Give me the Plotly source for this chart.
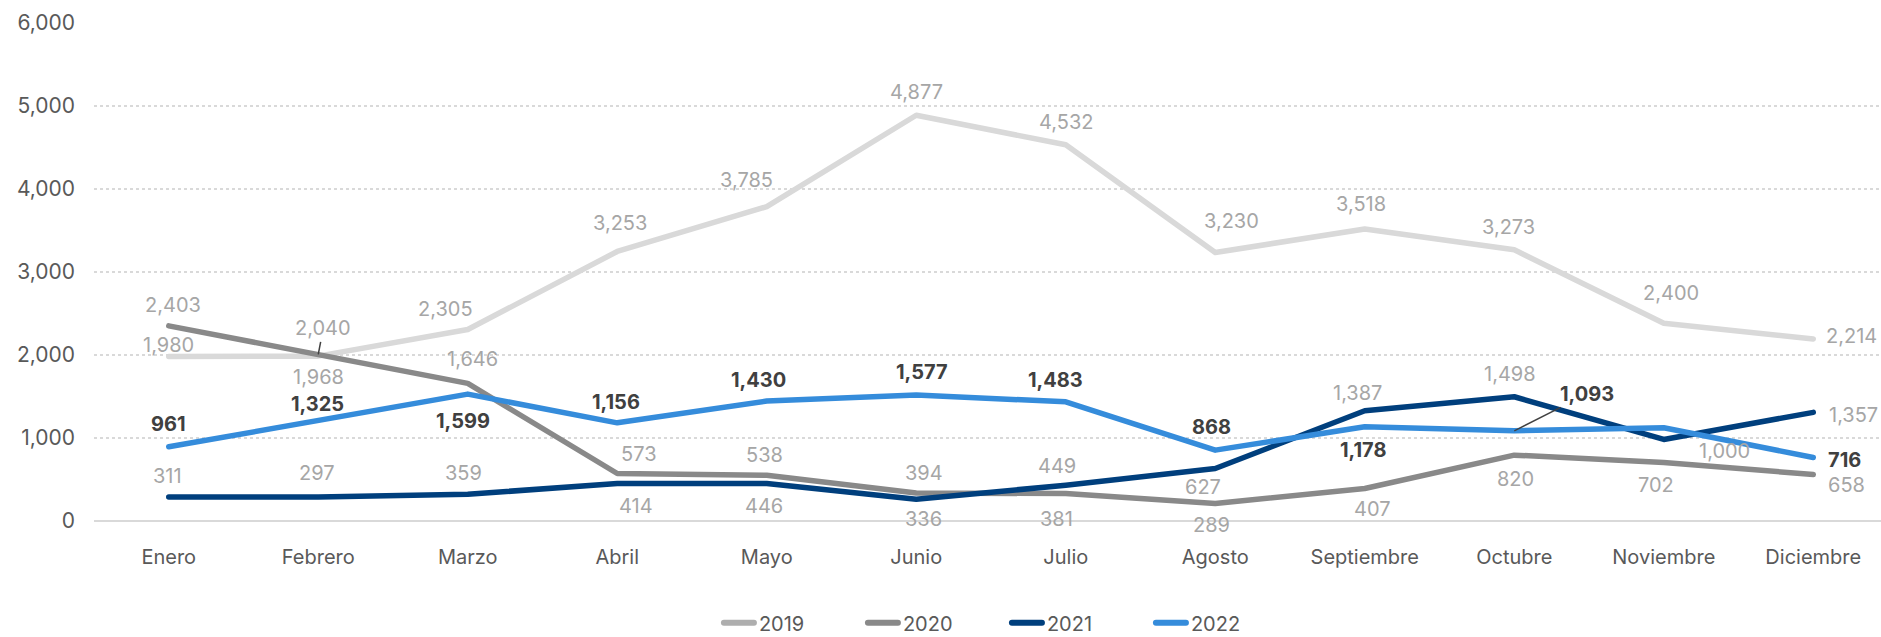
import plotly.graph_objects as go

# ---- data ----
months = ["Enero", "Febrero", "Marzo", "Abril", "Mayo", "Junio", "Julio",
          "Agosto", "Septiembre", "Octubre", "Noviembre", "Diciembre"]
years = ["2019", "2020", "2021", "2022"]

v2019 = [1980, 1985, 2306, 3245, 3785, 4885, 4530, 3233, 3515, 3265, 2380, 2192]
v2020 = [2349, 2005, 1657, 572, 551, 338, 330, 210, 391, 793, 704, 560]
v2021 = [290, 290, 322, 451, 451, 262, 431, 632, 1327, 1496, 982, 1308]
v2022 = [893, 1215, 1528, 1182, 1444, 1516, 1435, 853, 1134, 1086, 1122, 765]

lab2019 = ["1,980", "1,968", "2,305", "3,253", "3,785", "4,877", "4,532",
           "3,230", "3,518", "3,273", "2,400", "2,214"]
lab2020 = ["2,403", "2,040", "1,646", "573", "538", "394", "381",
           "289", "407", "820", "702", "658"]
lab2021 = ["311", "297", "359", "414", "446", "336", "449",
           "627", "1,387", "1,498", "1,000", "1,357"]
lab2022 = ["961", "1,325", "1,599", "1,156", "1,430", "1,577", "1,483",
           "868", "1,178", "1,093", "", "716"]

# ---- styles ----
line_colors = ["#D9D9D9", "#898989", "#003F7D", "#358CDB"]
legend_colors = ["#AEAEAE", "#898989", "#003F7D", "#358CDB"]
label_colors = ["#A6A6A6", "#A6A6A6", "#A6A6A6", "#404040"]
label_bold = [False, False, False, True]
FONT = "Inter, Lato, sans-serif"

# label offsets in pixels (dx right, dy down) relative to each point
off2019 = [(0, -12), (0, 21), (-22, -20), (3, -28), (-20, -27), (0, -23), (0, -23),
           (16, -31), (-4, -25), (-6, -23), (7, -30), (38, -3)]
off2020 = [(4, -21), None, (5, -24), (22, -19), (-2, -20), (8, -20), (-9, 25),
           (-4, 21), (7, 20), (1, 24), (-8, 22), (33, 11)]
off2021 = [(-1, -21), (-1, -24), (-4, -21), (19, 22), (-3, 22), (7, 20), (-9, -19),
           (-12, 18), (-7, -18), (-4, -23), (61, 12), (40, 3)]
off2022 = [(0, -23), (-1, -16), (-5, 27), (-1, -21), (-8, -21), (6, -23), (-10, -22),
           (-4, -23), (-2, 23), None, (0, 0), (31, 3)]
# leader-line labels: (dx, dy) from point to text centre
leader2020 = {1: (5, -26)}
leader2022 = {9: (73, -37)}

series = [v2019, v2020, v2021, v2022]
labels = [lab2019, lab2020, lab2021, lab2022]
offsets = [off2019, off2020, off2021, off2022]
leaders = [{}, leader2020, {}, leader2022]

fig = go.Figure()
for name, vals, col in zip(years, series, line_colors):
    fig.add_trace(go.Scatter(
        x=months, y=vals, name=name, mode="lines",
        line=dict(color=col, width=5.5),
        hoverinfo="skip", showlegend=False,
    ))
# legend entries (legend swatch colours as in the reference)
for name, col in zip(years, legend_colors):
    fig.add_trace(go.Scatter(
        x=[None], y=[None], name=name, mode="lines",
        line=dict(color=col, width=6), showlegend=True,
    ))

annotations = []
for s, (vals, labs, offs, lead) in enumerate(zip(series, labels, offsets, leaders)):
    for i, (m, v, t) in enumerate(zip(months, vals, labs)):
        if not t:
            continue
        txt = f"<b>{t}</b>" if label_bold[s] else t
        font = dict(family=FONT, size=20, color=label_colors[s])
        if i in lead:
            dx, dy = lead[i]
            annotations.append(dict(
                x=m, y=v, xref="x", yref="y", text=txt, font=font,
                showarrow=True, arrowhead=0, arrowwidth=1.5, arrowcolor="#404040",
                ax=dx, ay=dy, standoff=0, startstandoff=0,
            ))
        else:
            dx, dy = offs[i]
            annotations.append(dict(
                x=m, y=v, xref="x", yref="y", text=txt, font=font,
                showarrow=False, xshift=dx, yshift=-dy,
            ))

fig.update_layout(
    width=1881, height=637,
    paper_bgcolor="white", plot_bgcolor="white",
    margin=dict(l=94, r=0, t=22, b=116, autoexpand=False),
    font=dict(family=FONT, size=20, color="#595959"),
    showlegend=True,
    legend=dict(
        orientation="h", x=0.3497, xanchor="left", y=-0.204, yanchor="middle",
        entrywidth=99, entrywidthmode="pixels",
        font=dict(family=FONT, size=20, color="#595959"),
        bgcolor="rgba(0,0,0,0)", itemclick=False, itemdoubleclick=False,
    ),
    annotations=annotations,
    hovermode=False,
)
fig.update_xaxes(
    type="category", range=[-0.5, 11.453],
    showgrid=False, showline=False, zeroline=False, ticks="",
    tickfont=dict(family=FONT, size=20, color="#595959"),
    ticklabelstandoff=22,
)
fig.update_yaxes(
    range=[0, 6008], dtick=1000, tickformat=",",
    showgrid=True, gridcolor="#D9D9D9", gridwidth=1.5, griddash="3px,3px",
    zeroline=True, zerolinecolor="#D9D9D9", zerolinewidth=2,
    showline=False, ticks="",
    tickfont=dict(family=FONT, size=21, color="#595959"),
    ticklabelstandoff=18,
)

post = (
    "document.body.style.margin='0';"
    "document.querySelectorAll('.js-line').forEach(function(p){"
    "p.style.strokeLinecap='round';p.style.strokeLinejoin='round';});"
)
fig.write_html("out.html", post_script=post, config={"displayModeBar": False})
